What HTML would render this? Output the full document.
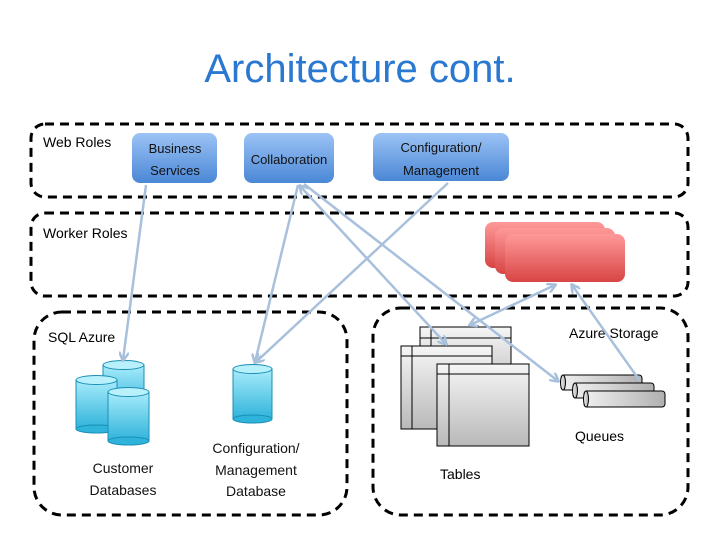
<!DOCTYPE html>
<html><head><style>body{margin:0;background:#fff}svg{display:block}</style></head><body>
<svg width="720" height="540" xmlns="http://www.w3.org/2000/svg" font-family="Liberation Sans, sans-serif">
<defs>
<linearGradient id="bl" x1="0" y1="0" x2="0" y2="1"><stop offset="0" stop-color="#9cc3f5"/><stop offset="1" stop-color="#4a87d6"/></linearGradient>
<linearGradient id="rd" x1="0" y1="0" x2="0" y2="1"><stop offset="0" stop-color="#f99"/><stop offset="1" stop-color="#d84545"/></linearGradient>
<linearGradient id="cy" x1="0" y1="0" x2="0" y2="1"><stop offset="0" stop-color="#a8ecfb"/><stop offset="1" stop-color="#2fb3da"/></linearGradient>
<linearGradient id="gr" x1="0" y1="0" x2="0" y2="1"><stop offset="0" stop-color="#f6f6f6"/><stop offset="1" stop-color="#b9b9b9"/></linearGradient>
<linearGradient id="qg" x1="0" y1="0" x2="1" y2="0"><stop offset="0" stop-color="#f0f0f0"/><stop offset="1" stop-color="#b0b0b0"/></linearGradient>
<marker id="ah" markerWidth="10" markerHeight="10" refX="8" refY="5" orient="auto-start-reverse" markerUnits="userSpaceOnUse"><path d="M0,0 L9,5 L0,10" fill="none" stroke="#a8c0dc" stroke-width="2.5"/></marker>
</defs>
<text x="360" y="82" text-anchor="middle" font-size="40" fill="#2a78d0">Architecture cont.</text>
<g fill="none" stroke="#000" stroke-width="3" stroke-dasharray="9,6">
<rect x="31" y="124" width="657" height="73" rx="14"/>
<rect x="31" y="213" width="657" height="83" rx="14"/>
<rect x="34" y="312" width="313" height="203" rx="28"/>
<rect x="373" y="308" width="315" height="207" rx="28"/>
</g>
<text x="43" y="147" font-size="14">Web Roles</text>
<text x="43" y="238" font-size="14">Worker Roles</text>
<text x="48" y="342" font-size="14">SQL Azure</text>
<text x="569" y="338" font-size="14">Azure Storage</text>
<rect x="132" y="133" width="85" height="50" rx="8" fill="url(#bl)"/>
<rect x="244" y="133" width="90" height="50" rx="8" fill="url(#bl)"/>
<rect x="373" y="133" width="136" height="48" rx="8" fill="url(#bl)"/>
<g font-size="13" text-anchor="middle" fill="#111">
<text x="175" y="153">Business</text><text x="175" y="175">Services</text>
<text x="289" y="164">Collaboration</text>
<text x="441" y="152">Configuration/</text><text x="441" y="175">Management</text>
</g>
<rect x="485" y="222" width="120" height="46" rx="8" fill="url(#rd)"/>
<rect x="495" y="228" width="120" height="46" rx="8" fill="url(#rd)"/>
<rect x="505" y="234" width="120" height="48" rx="8" fill="url(#rd)"/>
<g stroke="#000" stroke-width="1" fill="url(#gr)">
<rect x="420" y="327" width="91" height="68"/><line x1="420" y1="338" x2="511" y2="338"/><line x1="431" y1="327" x2="431" y2="395"/>
<rect x="401" y="346" width="91" height="83"/><line x1="401" y1="356" x2="492" y2="356"/><line x1="412" y1="346" x2="412" y2="429"/>
<rect x="437" y="364" width="92" height="82"/><line x1="437" y1="374" x2="529" y2="374"/><line x1="449" y1="364" x2="449" y2="446"/>
</g>
<g stroke="#000" stroke-width="1" fill="url(#qg)">
<rect x="561" y="375" width="81" height="15" rx="3"/><ellipse cx="563" cy="382.5" rx="2.5" ry="7.5"/>
<rect x="573" y="383" width="81" height="15" rx="3"/><ellipse cx="575" cy="390.5" rx="2.5" ry="7.5"/>
<rect x="584" y="391" width="81" height="16" rx="3"/><ellipse cx="586" cy="399" rx="2.5" ry="8"/>
</g>
<text x="575" y="441" font-size="14">Queues</text>
<text x="440" y="479" font-size="14">Tables</text>
<g stroke="#1a8fb5" stroke-width="1">
<g><rect x="103" y="365" width="41" height="46" fill="url(#cy)"/><ellipse cx="123.5" cy="411" rx="20.5" ry="4" fill="#2fb3da"/><ellipse cx="123.5" cy="365" rx="20.5" ry="4.5" fill="#b8f0fc"/></g>
<g><rect x="76" y="380" width="41" height="49" fill="url(#cy)"/><ellipse cx="96.5" cy="429" rx="20.5" ry="4" fill="#2fb3da"/><ellipse cx="96.5" cy="380" rx="20.5" ry="4.5" fill="#b8f0fc"/></g>
<g><rect x="108" y="392" width="41" height="49" fill="url(#cy)"/><ellipse cx="128.5" cy="441" rx="20.5" ry="4" fill="#2fb3da"/><ellipse cx="128.5" cy="392" rx="20.5" ry="4.5" fill="#b8f0fc"/></g>
<g><rect x="233" y="369" width="39" height="50" fill="url(#cy)"/><ellipse cx="252.5" cy="419" rx="19.5" ry="4" fill="#2fb3da"/><ellipse cx="252.5" cy="369" rx="19.5" ry="4.5" fill="#b8f0fc"/></g>
</g>
<g font-size="14" text-anchor="middle" fill="#111">
<text x="123" y="473">Customer</text><text x="123" y="495">Databases</text>
<text x="256" y="453">Configuration/</text><text x="256" y="475">Management</text><text x="256" y="496">Database</text>
</g>
<g stroke="#a8c0dc" stroke-width="2.5" fill="none">
<line x1="146" y1="185" x2="123" y2="360" marker-end="url(#ah)"/>
<line x1="298" y1="185" x2="255" y2="362" marker-end="url(#ah)"/>
<line x1="448" y1="183" x2="256" y2="362" marker-end="url(#ah)"/>
<line x1="300" y1="186" x2="446" y2="344" marker-start="url(#ah)" marker-end="url(#ah)"/>
<line x1="304" y1="184" x2="558" y2="381" marker-end="url(#ah)"/>
<line x1="555" y1="285" x2="470" y2="325" marker-start="url(#ah)" marker-end="url(#ah)"/>
<line x1="572" y1="285" x2="640" y2="381" marker-start="url(#ah)"/>
</g>
</svg>
</body></html>
